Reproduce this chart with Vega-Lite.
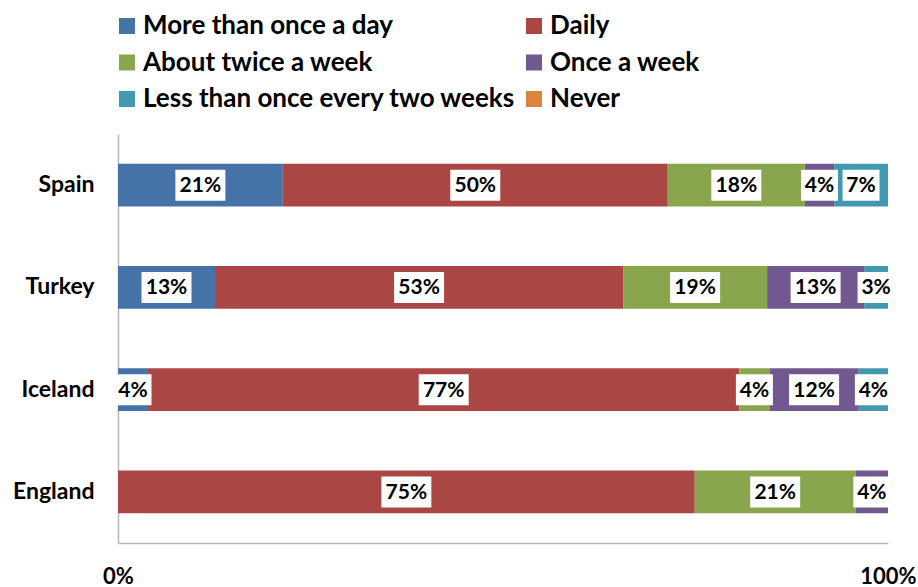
{
  "$schema": "https://vega.github.io/schema/vega-lite/v6.json",
  "autosize": "none",
  "width": 770,
  "height": 409,
  "padding": {"left": 118, "top": 134, "right": 30, "bottom": 44},
  "background": "white",
  "config": {
    "view": {"stroke": null},
    "font": "Lato",
    "axis": {"grid": false, "ticks": false, "domainColor": "#b8b8b8", "domainWidth": 1.5, "labelFont": "Lato", "labelFontWeight": "bold", "labelColor": "#000000", "title": null}
  },
  "data": {
    "values": [
      {"country": "Spain", "freq": "More than once a day", "k": 1, "share": 0.214},
      {"country": "Spain", "freq": "Daily", "k": 2, "share": 0.500},
      {"country": "Spain", "freq": "About twice a week", "k": 3, "share": 0.178},
      {"country": "Spain", "freq": "Once a week", "k": 4, "share": 0.038},
      {"country": "Spain", "freq": "Less than once every two weeks", "k": 5, "share": 0.070},
      {"country": "Turkey", "freq": "More than once a day", "k": 1, "share": 0.126},
      {"country": "Turkey", "freq": "Daily", "k": 2, "share": 0.530},
      {"country": "Turkey", "freq": "About twice a week", "k": 3, "share": 0.187},
      {"country": "Turkey", "freq": "Once a week", "k": 4, "share": 0.126},
      {"country": "Turkey", "freq": "Less than once every two weeks", "k": 5, "share": 0.031},
      {"country": "Iceland", "freq": "More than once a day", "k": 1, "share": 0.039},
      {"country": "Iceland", "freq": "Daily", "k": 2, "share": 0.768},
      {"country": "Iceland", "freq": "About twice a week", "k": 3, "share": 0.039},
      {"country": "Iceland", "freq": "Once a week", "k": 4, "share": 0.116},
      {"country": "Iceland", "freq": "Less than once every two weeks", "k": 5, "share": 0.038},
      {"country": "England", "freq": "Daily", "k": 2, "share": 0.749},
      {"country": "England", "freq": "About twice a week", "k": 3, "share": 0.209},
      {"country": "England", "freq": "Once a week", "k": 4, "share": 0.042}
    ]
  },
  "transform": [
    {"stack": "share", "groupby": ["country"], "sort": [{"field": "k", "order": "ascending"}], "as": ["v0", "v1"], "offset": "normalize"},
    {"calculate": "(datum.v0 + datum.v1) / 2", "as": "mid"}
  ],
  "encoding": {
    "y": {
      "field": "country", "type": "nominal",
      "sort": ["Spain", "Turkey", "Iceland", "England"],
      "scale": {"paddingInner": 0.58, "paddingOuter": 0.29},
      "axis": {"labelFontSize": 23, "labelPadding": 24, "domain": true}
    }
  },
  "layer": [
    {
      "mark": {"type": "bar"},
      "encoding": {
        "x": {"field": "v0", "type": "quantitative", "scale": {"domain": [0, 1]},
          "axis": {"values": [0, 1], "format": ".0%", "labelFontSize": 22, "labelPadding": 23, "labelFlush": false}},
        "x2": {"field": "v1"},
        "color": {
          "field": "freq", "type": "nominal",
          "scale": {
            "domain": ["More than once a day", "Daily", "About twice a week", "Once a week", "Less than once every two weeks", "Never"],
            "range": ["#4572A7", "#AA4643", "#89A54E", "#71588F", "#4198AF", "#DB843D"]
          },
          "legend": {
            "orient": "none", "legendX": -4, "legendY": -121, "columns": 2, "direction": "horizontal",
            "title": null, "labelFont": "Lato", "labelFontSize": 26, "labelFontWeight": "bold", "labelColor": "#000000",
            "symbolType": "square", "symbolSize": 256, "symbolStrokeWidth": 0, "symbolOpacity": 1,
            "labelOffset": 3, "rowPadding": 10.5, "columnPadding": 5, "labelLimit": 600
          }
        }
      }
    },
    {
      "mark": {"type": "point", "filled": true, "fill": "#ffffff", "opacity": 1, "strokeWidth": 0, "size": 400},
      "encoding": {
        "x": {"field": "mid", "type": "quantitative"},
        "shape": {"condition": {"test": "datum.share >= 0.095", "value": "M-2.5,-1.55H2.5V1.55H-2.5Z"}, "value": "M-1.85,-1.55H1.85V1.55H-1.85Z"}
      }
    },
    {
      "mark": {"type": "text", "font": "Lato", "fontWeight": "bold", "fontSize": 21, "color": "#000000", "baseline": "middle", "align": "center", "dy": 1},
      "encoding": {
        "x": {"field": "mid", "type": "quantitative"},
        "text": {"field": "share", "type": "quantitative", "format": ".0%"}
      }
    }
  ]
}
